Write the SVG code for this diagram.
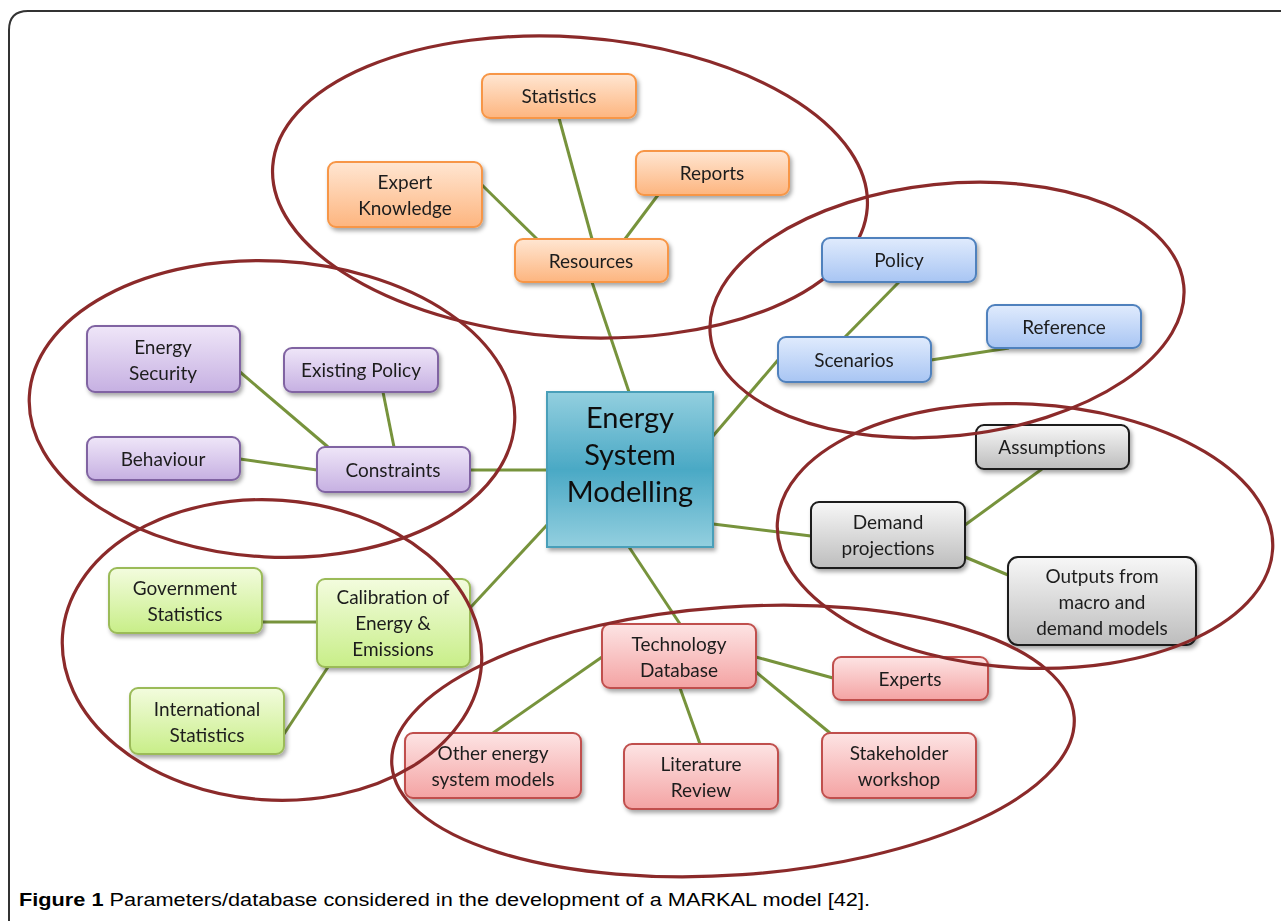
<svg xmlns="http://www.w3.org/2000/svg" width="1281" height="921" viewBox="0 0 1281 921">
<defs>
<style>
.t{font-family:Lato,"Liberation Sans",sans-serif;font-size:19px;fill:#1e1e1e;text-anchor:middle}
.c{font-family:Lato,"Liberation Sans",sans-serif;font-size:29px;fill:#111;text-anchor:middle}
.cap{font-family:"Liberation Sans",Arial,sans-serif;font-size:17.5px;fill:#000}
.ln{stroke:#77933c;stroke-width:3;fill:none}
.el{fill:none;stroke:#8b2a2a;stroke-width:3.2}
.o{fill:url(#gO);stroke:#f79646;stroke-width:2}
.b{fill:url(#gB);stroke:#4f81bd;stroke-width:2}
.p{fill:url(#gP);stroke:#8064a2;stroke-width:2}
.g{fill:url(#gG);stroke:#9bbb59;stroke-width:2}
.r{fill:url(#gR);stroke:#c0504d;stroke-width:2}
.k{fill:url(#gK);stroke:#1a1a1a;stroke-width:2}
.n{filter:url(#sh)}
</style>
<filter id="sh" x="-20%" y="-20%" width="140%" height="150%"><feDropShadow dx="2" dy="3" stdDeviation="2" flood-color="#000" flood-opacity="0.35"/></filter>
<linearGradient id="gO" x1="0" y1="0" x2="0" y2="1"><stop offset="0" stop-color="#ffe6d2"/><stop offset="1" stop-color="#fdb57f"/></linearGradient>
<linearGradient id="gB" x1="0" y1="0" x2="0" y2="1"><stop offset="0" stop-color="#e0ebfd"/><stop offset="1" stop-color="#a8c5f3"/></linearGradient>
<linearGradient id="gP" x1="0" y1="0" x2="0" y2="1"><stop offset="0" stop-color="#efe6f8"/><stop offset="1" stop-color="#c6b0e2"/></linearGradient>
<linearGradient id="gG" x1="0" y1="0" x2="0" y2="1"><stop offset="0" stop-color="#f3fcde"/><stop offset="1" stop-color="#c8ee88"/></linearGradient>
<linearGradient id="gR" x1="0" y1="0" x2="0" y2="1"><stop offset="0" stop-color="#fde4e4"/><stop offset="1" stop-color="#f4a3a3"/></linearGradient>
<linearGradient id="gK" x1="0" y1="0" x2="0" y2="1"><stop offset="0" stop-color="#f7f7f7"/><stop offset="1" stop-color="#bdbdbd"/></linearGradient>
<linearGradient id="gC" x1="0" y1="0" x2="0" y2="1"><stop offset="0" stop-color="#93cfdf"/><stop offset="0.5" stop-color="#4aa9c5"/><stop offset="1" stop-color="#93cfdf"/></linearGradient>
</defs>
<rect width="1281" height="921" fill="#fff"/>
<path d="M9,921 L9,30 Q9,11 28,11 L1281,11" fill="none" stroke="#333" stroke-width="2"/>

<g id="connectors">
<line class="ln" x1="559" y1="118" x2="592" y2="239"/>
<line class="ln" x1="482" y1="185" x2="537" y2="239"/>
<line class="ln" x1="658" y1="195" x2="625" y2="239"/>
<line class="ln" x1="592" y1="282" x2="629" y2="392"/>
<line class="ln" x1="899" y1="282" x2="845" y2="337"/>
<line class="ln" x1="931" y1="360" x2="1009" y2="348"/>
<line class="ln" x1="713" y1="436" x2="778" y2="360"/>
<line class="ln" x1="240" y1="372" x2="328" y2="447"/>
<line class="ln" x1="383" y1="392" x2="394" y2="447"/>
<line class="ln" x1="240" y1="459" x2="317" y2="470"/>
<line class="ln" x1="470" y1="470" x2="547" y2="470"/>
<line class="ln" x1="262" y1="622" x2="317" y2="622"/>
<line class="ln" x1="284" y1="734" x2="328" y2="667"/>
<line class="ln" x1="470" y1="608" x2="547" y2="525"/>
<line class="ln" x1="602" y1="657" x2="493" y2="733"/>
<line class="ln" x1="680" y1="688" x2="700" y2="744"/>
<line class="ln" x1="756" y1="672" x2="830" y2="733"/>
<line class="ln" x1="756" y1="657" x2="833" y2="678"/>
<line class="ln" x1="629" y1="547" x2="680" y2="624"/>
<line class="ln" x1="965" y1="525" x2="1042" y2="469"/>
<line class="ln" x1="965" y1="557" x2="1008" y2="575"/>
<line class="ln" x1="713" y1="524" x2="811" y2="536"/>
</g>

<ellipse id="ring-resources" class="el" cx="570" cy="187" rx="298" ry="150" transform="rotate(4 570 187)"/>

<g id="center" class="n"><rect x="547" y="392" width="166" height="155" fill="url(#gC)" stroke="#4a9fb9" stroke-width="2"/>
<text class="c" x="630" y="428">Energy</text><text class="c" x="630" y="465">System</text><text class="c" x="630" y="502">Modelling</text></g>

<g id="statistics" class="n"><rect class="o" x="482" y="74" width="154" height="44" rx="8"/><text class="t" x="559" y="103">Statistics</text></g>
<g id="reports" class="n"><rect class="o" x="636" y="151" width="153" height="44" rx="8"/><text class="t" x="712" y="180">Reports</text></g>
<g id="resources" class="n"><rect class="o" x="515" y="239" width="153" height="43" rx="8"/><text class="t" x="591" y="268">Resources</text></g>
<g id="expert" class="n"><rect class="o" x="328" y="162" width="154" height="65" rx="8"/><text class="t" x="405" y="189">Expert</text><text class="t" x="405" y="215">Knowledge</text></g>

<g id="policy" class="n"><rect class="b" x="822" y="238" width="154" height="44" rx="8"/><text class="t" x="899" y="267">Policy</text></g>
<g id="reference" class="n"><rect class="b" x="987" y="305" width="154" height="43" rx="8"/><text class="t" x="1064" y="334">Reference</text></g>
<g id="scenarios" class="n"><rect class="b" x="778" y="337" width="153" height="45" rx="8"/><text class="t" x="854" y="367">Scenarios</text></g>

<g id="energy-security" class="n"><rect class="p" x="87" y="326" width="153" height="66" rx="8"/><text class="t" x="163" y="354">Energy</text><text class="t" x="163" y="380">Security</text></g>
<g id="existing-policy" class="n"><rect class="p" x="284" y="348" width="154" height="44" rx="8"/><text class="t" x="361" y="377">Existing Policy</text></g>
<g id="behaviour" class="n"><rect class="p" x="87" y="437" width="153" height="43" rx="8"/><text class="t" x="163" y="466">Behaviour</text></g>
<g id="constraints" class="n"><rect class="p" x="317" y="447" width="153" height="45" rx="8"/><text class="t" x="393" y="477">Constraints</text></g>

<g id="gov-stats" class="n"><rect class="g" x="109" y="568" width="153" height="65" rx="8"/><text class="t" x="185" y="595">Government</text><text class="t" x="185" y="621">Statistics</text></g>
<g id="calibration" class="n"><rect class="g" x="317" y="579" width="153" height="88" rx="8"/><text class="t" x="393" y="604">Calibration of</text><text class="t" x="393" y="630">Energy &amp;</text><text class="t" x="393" y="656">Emissions</text></g>
<g id="intl-stats" class="n"><rect class="g" x="130" y="688" width="154" height="66" rx="8"/><text class="t" x="207" y="716">International</text><text class="t" x="207" y="742">Statistics</text></g>

<g id="tech-db" class="n"><rect class="r" x="602" y="624" width="154" height="64" rx="8"/><text class="t" x="679" y="651">Technology</text><text class="t" x="679" y="677">Database</text></g>
<g id="experts" class="n"><rect class="r" x="833" y="657" width="155" height="43" rx="8"/><text class="t" x="910" y="686">Experts</text></g>
<g id="other-models" class="n"><rect class="r" x="405" y="733" width="176" height="65" rx="8"/><text class="t" x="493" y="760">Other energy</text><text class="t" x="493" y="786">system models</text></g>
<g id="literature" class="n"><rect class="r" x="624" y="744" width="154" height="65" rx="8"/><text class="t" x="701" y="771">Literature</text><text class="t" x="701" y="797">Review</text></g>
<g id="stakeholder" class="n"><rect class="r" x="822" y="733" width="154" height="65" rx="8"/><text class="t" x="899" y="760">Stakeholder</text><text class="t" x="899" y="786">workshop</text></g>

<g id="assumptions" class="n"><rect class="k" x="976" y="425" width="153" height="44" rx="8"/><text class="t" x="1052" y="454">Assumptions</text></g>
<g id="demand" class="n"><rect class="k" x="811" y="502" width="154" height="66" rx="8"/><text class="t" x="888" y="529">Demand</text><text class="t" x="888" y="555">projections</text></g>
<g id="outputs" class="n"><rect class="k" x="1008" y="557" width="188" height="88" rx="10"/><text class="t" x="1102" y="583">Outputs from</text><text class="t" x="1102" y="609">macro and</text><text class="t" x="1102" y="635">demand models</text></g>

<g id="rings">
<ellipse class="el" cx="947" cy="310" rx="238" ry="126" transform="rotate(-6 947 310)"/>
<ellipse class="el" cx="272" cy="409" rx="243" ry="148" transform="rotate(3 272 409)"/>
<ellipse class="el" cx="1025" cy="536" rx="248" ry="132" transform="rotate(3 1025 536)"/>
<ellipse class="el" cx="272" cy="650" rx="210" ry="150" transform="rotate(4 272 650)"/>
<ellipse class="el" cx="733" cy="741" rx="342" ry="134" transform="rotate(-4 733 741)"/>
</g>

<text class="cap" x="19" y="906" textLength="851" lengthAdjust="spacingAndGlyphs"><tspan font-weight="bold">Figure 1</tspan> Parameters/database considered in the development of a MARKAL model [42].</text>
</svg>
